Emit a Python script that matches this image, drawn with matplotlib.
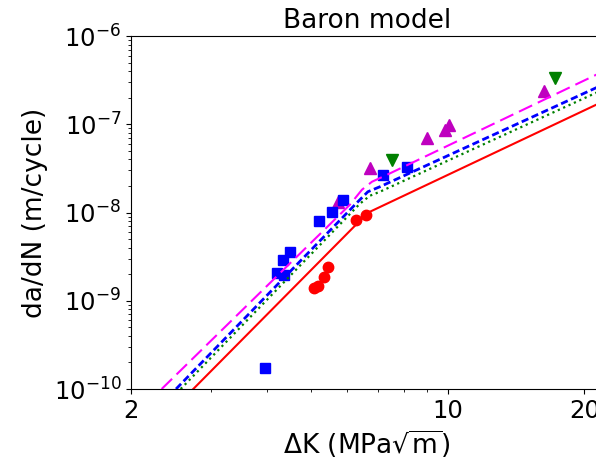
import matplotlib
matplotlib.use("Agg")
import matplotlib.pyplot as plt
from matplotlib.ticker import NullFormatter

# model curves
magenta_dk = [2.337, 6.080, 6.464, 6.800, 7.264, 21.97]
magenta_rate = [1.0e-10, 1.225e-8, 1.811e-8, 2.231e-8, 2.608e-8, 3.95e-7]
blue_dk = [2.514, 6.333, 6.662, 7.081, 21.97]
blue_rate = [1.0e-10, 1.325e-8, 1.719e-8, 1.958e-8, 2.805e-7]
green_dk = [2.574, 6.397, 6.730, 7.081, 21.97]
green_rate = [1.0e-10, 1.258e-8, 1.549e-8, 1.719e-8, 2.462e-7]
red_dk = [2.744, 6.662, 21.97]
red_rate = [1.0e-10, 9.95e-9, 1.806e-7]

# experimental points
sq_dk = [3.955, 4.193, 4.350, 4.322, 4.494, 5.194, 5.549, 5.878, 7.200, 8.108]
sq_rate = [1.71e-10, 2.084e-9, 1.978e-9, 2.924e-9, 3.602e-9, 8.08e-9, 1.021e-8, 1.395e-8, 2.677e-8, 3.322e-8]
circ_dk = [5.072, 5.168, 5.320, 5.438, 6.278, 6.584]
circ_rate = [1.40e-9, 1.486e-9, 1.878e-9, 2.405e-9, 8.18e-9, 9.40e-9]
up_dk = [5.720, 6.742, 8.974, 9.848, 10.04, 16.26]
up_rate = [1.307e-8, 3.186e-8, 7.05e-8, 8.64e-8, 9.84e-8, 2.386e-7]
down_dk = [7.538, 17.22]
down_rate = [3.886e-8, 3.322e-7]

xtick_vals = [2, 10, 20]
xtick_labels = ['2', '10', '20']

fig = plt.figure(figsize=(5.96, 4.59), dpi=100)
ax = fig.add_axes([0.2198, 0.1525, 0.792, 0.769])

ax.plot(circ_dk, circ_rate, 'o', color='red', ms=7.5, ls='none')
ax.plot(up_dk, up_rate, '^', color='m', ms=8, ls='none')
ax.plot(sq_dk, sq_rate, 's', color='blue', ms=7.5, ls='none')
ax.plot(down_dk, down_rate, 'v', color='g', ms=8, ls='none')

ax.plot(red_dk, red_rate, '-', color='red', lw=1.5)
ax.plot(green_dk, green_rate, ':', color='g', lw=1.6)
ax.plot(blue_dk, blue_rate, color='blue', lw=2, ls=(0, (2.6, 1.3)))
ax.plot(magenta_dk, magenta_rate, color='#ff00ff', lw=1.5, ls=(0, (7, 3)))

ax.set_xscale('log')
ax.set_yscale('log')
ax.set_xlim(2, 22)
ax.set_ylim(1e-10, 1e-6)
ax.set_xticks(xtick_vals)
ax.set_xticklabels(xtick_labels)
ax.xaxis.set_minor_formatter(NullFormatter())
ax.yaxis.set_minor_formatter(NullFormatter())
ax.tick_params(labelsize=17.5)

ax.set_xlabel(r'ΔK (MPa$\sqrt{\mathrm{m}}$)', fontsize=19)
ax.set_ylabel('da/dN (m/cycle)', fontsize=19)
ax.set_title('Baron model', fontsize=19)

fig.savefig('out.png', dpi=100)
